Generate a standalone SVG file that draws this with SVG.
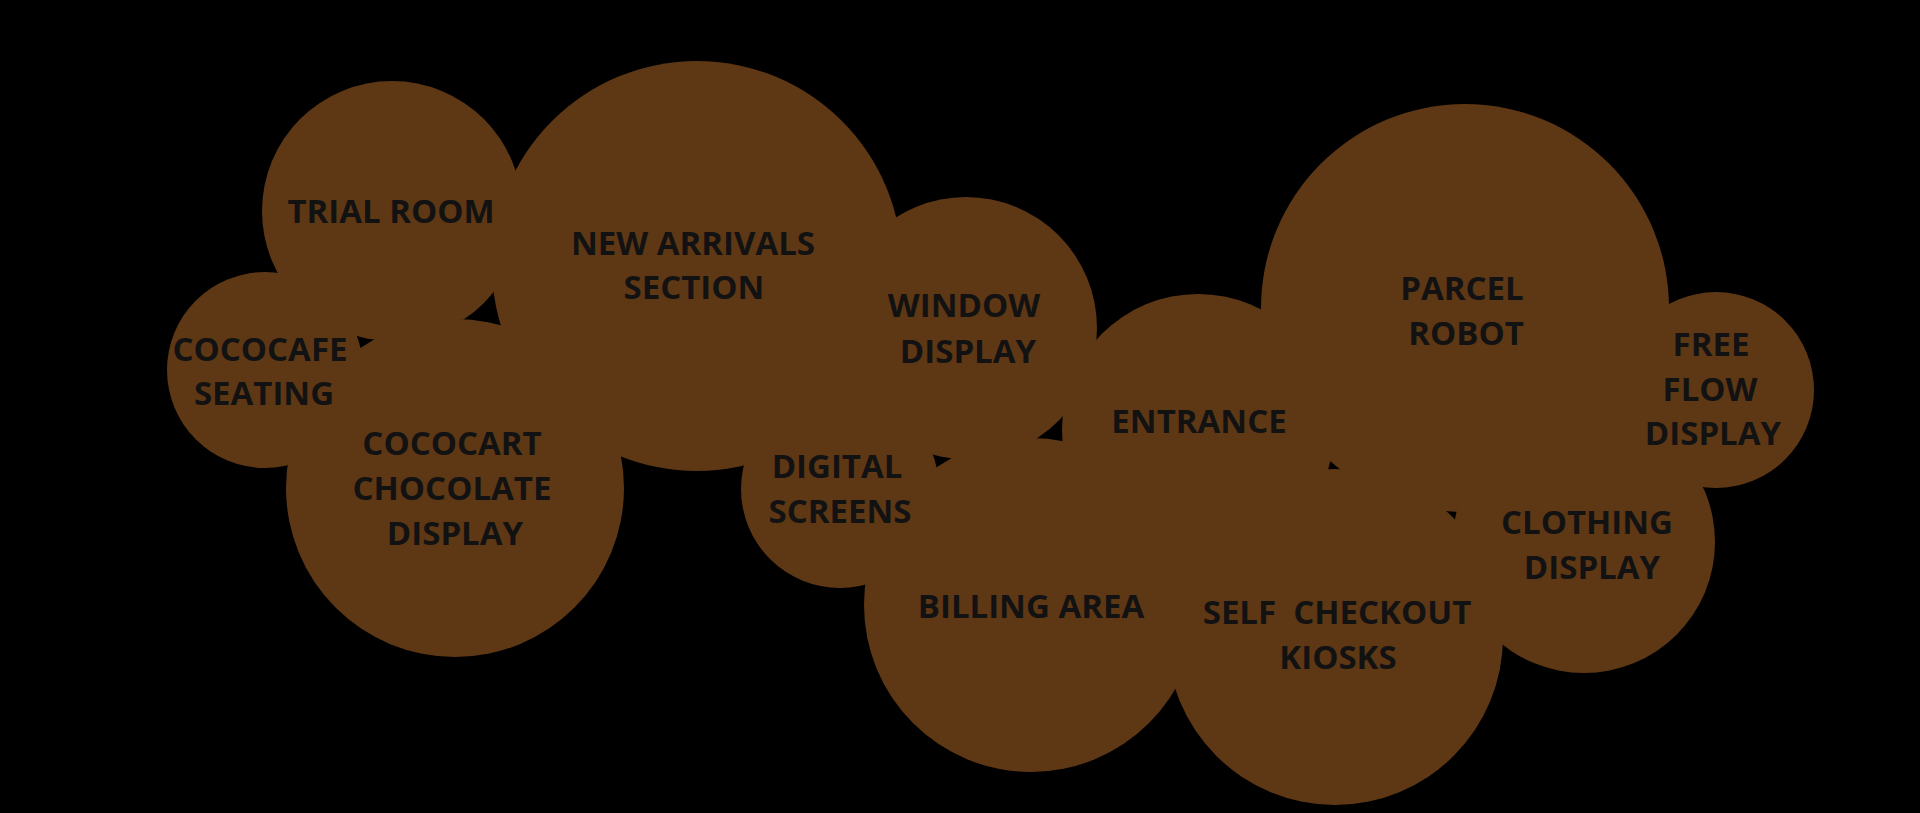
<svg xmlns="http://www.w3.org/2000/svg" width="1920" height="813" viewBox="0 0 1920 813">
<style>
.bubble{fill:#5E3715;}
.lbl{font-family:"Open Sans","Liberation Sans",sans-serif;font-weight:700;font-size:33px;fill:#121212;text-anchor:middle;white-space:pre;}
</style>
<rect x="0" y="0" width="1920" height="813" fill="#000"/>
<g id="trial-room"><circle class="bubble" cx="392" cy="211" r="130"/></g>
<g id="new-arrivals"><circle class="bubble" cx="697" cy="266" r="205"/></g>
<g id="cococafe"><circle class="bubble" cx="265" cy="370" r="98"/></g>
<g id="cococart"><circle class="bubble" cx="455" cy="488" r="169"/></g>
<g id="window-display"><circle class="bubble" cx="966" cy="328" r="131"/></g>
<g id="digital-screens"><circle class="bubble" cx="840" cy="489" r="99"/></g>
<g id="entrance"><circle class="bubble" cx="1198" cy="430" r="136"/></g>
<g id="parcel-robot"><circle class="bubble" cx="1465" cy="308" r="204"/></g>
<g id="free-flow"><circle class="bubble" cx="1716" cy="390" r="98"/></g>
<g id="clothing"><circle class="bubble" cx="1584" cy="542" r="131"/></g>
<g id="billing"><circle class="bubble" cx="1031" cy="605" r="167"/></g>
<g id="self-checkout"><circle class="bubble" cx="1335" cy="637" r="168"/></g>
<g id="connectors"></g>
<g id="labels">
<text class="lbl" x="391" y="223">TRIAL ROOM</text>
<text class="lbl" x="693" y="255">NEW ARRIVALS</text>
<text class="lbl" x="694" y="299">SECTION</text>
<text class="lbl" x="260" y="361">COCOCAFE</text>
<text class="lbl" x="264" y="405">SEATING</text>
<text class="lbl" x="452" y="455">COCOCART</text>
<text class="lbl" x="452" y="500">CHOCOLATE</text>
<text class="lbl" x="455" y="545">DISPLAY</text>
<text class="lbl" x="964" y="317">WINDOW</text>
<text class="lbl" x="968" y="363">DISPLAY</text>
<text class="lbl" x="837" y="478">DIGITAL</text>
<text class="lbl" x="840" y="523">SCREENS</text>
<text class="lbl" x="1199" y="433">ENTRANCE</text>
<text class="lbl" x="1462" y="300">PARCEL</text>
<text class="lbl" x="1466" y="345">ROBOT</text>
<text class="lbl" x="1711" y="356">FREE</text>
<text class="lbl" x="1710" y="401">FLOW</text>
<text class="lbl" x="1713" y="445">DISPLAY</text>
<text class="lbl" x="1587" y="534">CLOTHING</text>
<text class="lbl" x="1592" y="579">DISPLAY</text>
<text class="lbl" x="1031" y="618">BILLING AREA</text>
<text class="lbl" x="1337" y="624">SELF  CHECKOUT</text>
<text class="lbl" x="1338" y="669">KIOSKS</text>
</g>
</svg>
